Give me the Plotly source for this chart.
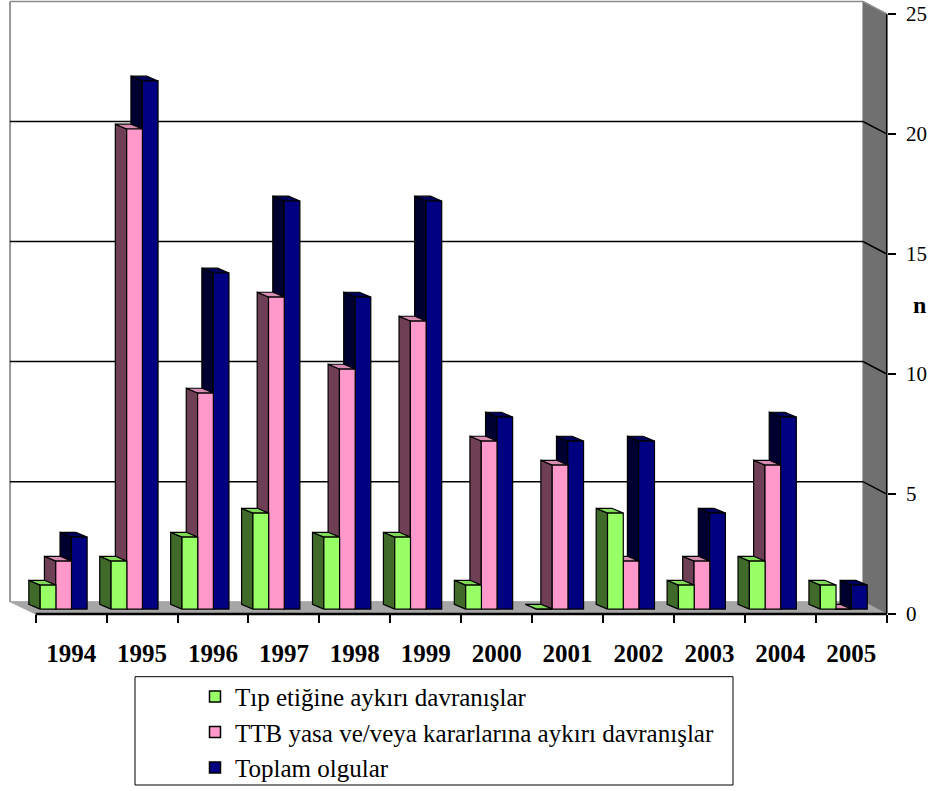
import plotly.graph_objects as go

# Yearly case counts
years = ["1994", "1995", "1996", "1997", "1998", "1999",
         "2000", "2001", "2002", "2003", "2004", "2005"]
tip_etigi = [1, 2, 3, 4, 3, 3, 1, 0, 4, 1, 2, 1]
ttb_yasa = [2, 20, 9, 13, 10, 12, 7, 6, 2, 2, 6, 0]
toplam = [3, 22, 14, 17, 13, 17, 8, 7, 7, 4, 8, 1]
y_ticks = [0, 5, 10, 15, 20, 25]

SERIF = "Liberation Serif, Times New Roman, Times, serif"

W, H = 947, 791
PX_X, PX_Y = 70.92, 24.16        # pixels per category / per unit
X0_PX, Y0_PX = 35.7, 618         # pixel position of the data origin
x_range = [-X0_PX / PX_X, (W - X0_PX) / PX_X]
y_range = [-(H - Y0_PX) / PX_Y, Y0_PX / PX_Y]

# pseudo-3D geometry (data units)
N = len(years)
AX = float(N)                    # right axis / last boundary
BACK_DY = 0.517                  # back wall vertical shift
WALL_L, WALL_R = -0.362, 11.665  # back wall left/right edges
BAR_BASE = 0.207
BAR_W = 0.222
DEPTH_DX, DEPTH_DY = -0.16, 0.2

series = [
    # name, values, offset, front, side, top
    ("Toplam olgular", toplam, 0.503, "#000080", "#000030", "#00005a"),
    ("TTB yasa ve/veya kararlarına aykırı davranışlar", ttb_yasa, 0.283,
     "#ff99cc", "#6e3f55", "#d98cb3"),
    ("Tıp etiğine aykırı davranışlar", tip_etigi, 0.063,
     "#99ff66", "#3f6a2a", "#80d957"),
]

fig = go.Figure()


def poly(xs, ys, fill, line="black", width=1.2):
    fig.add_trace(go.Scatter(x=xs, y=ys, mode="lines", fill="toself",
                             fillcolor=fill, line=dict(color=line, width=width),
                             hoverinfo="skip", showlegend=False))


def line(xs, ys, color, width):
    fig.add_trace(go.Scatter(x=xs, y=ys, mode="lines",
                             line=dict(color=color, width=width),
                             hoverinfo="skip", showlegend=False))


# right side wall and floor
poly([WALL_R, WALL_R, AX, AX, WALL_R],
     [BACK_DY, 25 + BACK_DY, 25, 0, BACK_DY], "#707070", line="#707070", width=1)
poly([0, AX, WALL_R, WALL_L, 0], [0, 0, BACK_DY, BACK_DY, 0],
     "#a6a6a6", line="#a6a6a6", width=1)

# back wall borders and gridlines
line([WALL_L, WALL_L], [BACK_DY, 25 + BACK_DY], "#999999", 2)
line([WALL_L, WALL_R, AX], [25 + BACK_DY, 25 + BACK_DY, 25], "#8c8c8c", 1.5)
for v in y_ticks[1:-1]:
    line([WALL_L, WALL_R, AX], [v + BACK_DY, v + BACK_DY, v], "black", 1.5)

# bars: side, top and front faces per series
for name, vals, off, c_front, c_side, c_top in series:
    sx, sy, tx, ty, fx, fy = [], [], [], [], [], []
    for k, v in enumerate(vals):
        L = k + off
        R = L + BAR_W
        B = BAR_BASE
        T = BAR_BASE + v
        sx += [L, L, L + DEPTH_DX, L + DEPTH_DX, L, None]
        sy += [B, T, T + DEPTH_DY, B + DEPTH_DY, B, None]
        tx += [L, R, R + DEPTH_DX, L + DEPTH_DX, L, None]
        ty += [T, T, T + DEPTH_DY, T + DEPTH_DY, T, None]
        fx += [L, R, R, L, L, None]
        fy += [B, B, T, T, B, None]
    poly(sx, sy, c_side)
    poly(tx, ty, c_top)
    poly(fx, fy, c_front)

# front floor edge and value axis line
line([0, AX], [0, 0], "black", 2.5)
line([AX, AX], [0, 25], "black", 1.5)

# legend entries
for i, (name, vals, off, c_front, c_side, c_top) in enumerate(series[::-1]):
    fig.add_trace(go.Scatter(
        x=[None], y=[None], mode="markers", name=name, legendgroup=str(i),
        marker=dict(symbol="square", size=11, color=c_front,
                    line=dict(color="black", width=1.5))))

fig.update_layout(
    width=W, height=H,
    margin=dict(l=0, r=0, t=0, b=0),
    paper_bgcolor="white", plot_bgcolor="white",
    font=dict(family=SERIF, color="black"),
    xaxis=dict(range=x_range, domain=[0, 1], anchor="free",
               position=(H - Y0_PX) / H,
               tickvals=[k + 0.5 for k in range(N)], ticktext=years,
               ticks="", showgrid=False, zeroline=False, showline=False,
               tickfont=dict(size=25, family=SERIF, color="black",
                             weight="bold"),
               ticklabelstandoff=22,
               minor=dict(tickvals=list(range(N + 1)), ticks="outside",
                          ticklen=8, tickcolor="black", tickwidth=1.5,
                          showgrid=False),
               automargin=False, fixedrange=True),
    yaxis=dict(range=y_range, domain=[0, 1], anchor="free", side="right",
               position=(X0_PX + AX * PX_X) / W,
               tickvals=y_ticks, ticks="outside", ticklen=8,
               tickcolor="black", tickwidth=1.5,
               showgrid=False, zeroline=False, showline=False,
               tickfont=dict(size=21, family=SERIF, color="black"),
               ticklabelstandoff=6,
               automargin=False, fixedrange=True),
    showlegend=True,
    legend=dict(x=195 / W, y=1 - 678 / H, xanchor="left", yanchor="top",
                bgcolor="rgba(0,0,0,0)", borderwidth=0,
                font=dict(size=25, family=SERIF, color="black"),
                tracegroupgap=0, traceorder="grouped", itemwidth=30),
    shapes=[dict(type="rect", xref="paper", yref="paper",
                 x0=135 / W, x1=733 / W, y0=1 / H, y1=1 - 681 / H,
                 line=dict(color="black", width=1))],
    annotations=[dict(text="<b>n</b>", x=928 / W, y=1 - 307 / H,
                      xref="paper", yref="paper", showarrow=False,
                      font=dict(size=24, family=SERIF, color="black"))],
)

fig.write_html("out.html")
